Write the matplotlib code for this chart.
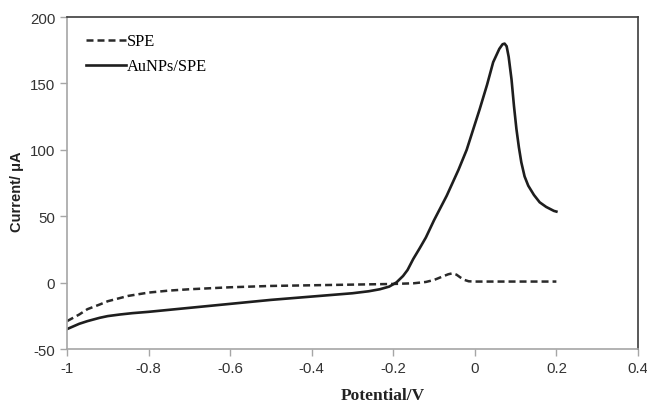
import numpy as np
import matplotlib
matplotlib.use("Agg")
import matplotlib.pyplot as plt

plt.rcParams['font.family'] = ['Liberation Serif', 'DejaVu Serif']
plt.rcParams['axes.unicode_minus'] = False

# SPE (dashed) - potential (V) vs current (uA)
spe_v = [-1.0, -0.97, -0.95, -0.92, -0.9, -0.85, -0.8, -0.75, -0.7, -0.6, -0.5, -0.4,
         -0.3, -0.2, -0.15, -0.12, -0.1, -0.08, -0.065, -0.055, -0.045, -0.035,
         -0.025, -0.015, 0.0, 0.1, 0.2]
spe_i = [-29, -24, -20, -16.5, -14, -10, -7.5, -6, -5, -3.5, -2.5, -2,
         -1.5, -1, -0.5, 0.5, 2, 4.5, 6.3, 7, 6, 3.8, 2, 1, 0.8, 0.8, 0.8]

# AuNPs/SPE (solid)
au_v = [-1.0, -0.97, -0.95, -0.92, -0.9, -0.87, -0.84, -0.8, -0.7, -0.6, -0.5, -0.4, -0.3,
        -0.26, -0.233, -0.21, -0.192, -0.176, -0.165, -0.151, -0.135, -0.12, -0.1, -0.069,
        -0.04, -0.02, 0.012, 0.03, 0.045, 0.06, 0.068, 0.073, 0.078, 0.083,
        0.09, 0.096, 0.102, 0.108, 0.114, 0.122, 0.131, 0.145, 0.159, 0.175,
        0.194, 0.2]
au_i = [-35, -31, -29, -26.5, -25.2, -24, -23, -22, -19, -16, -13, -10.5, -8,
        -6.5, -5, -3, 0.2, 5, 9.5, 17.8, 26, 34, 47, 65.4,
        85, 100, 130.7, 149, 166, 176, 179.5, 180, 178, 170,
        153, 133, 115.7, 102, 90.6, 80, 73, 66, 60.5, 57,
        54, 53.5]

fig = plt.figure(figsize=(6.47, 4.10), dpi=100)
ax = fig.add_axes([0.1036, 0.1463, 0.8824, 0.8097])

ax.plot(spe_v, spe_i, color='#2a2a2a', lw=1.8, ls=(0, (2.8, 1.6)), label='SPE')
ax.plot(au_v, au_i, color='#1e1e1e', lw=1.9, label='AuNPs/SPE')

ax.set_xlim(-1, 0.4)
ax.set_ylim(-50, 200)
ax.set_xticks(np.arange(-1, 0.41, 0.2))
ax.set_xticklabels(['-1', '-0.8', '-0.6', '-0.4', '-0.2', '0', '0.2', '0.4'])
ax.set_yticks(np.arange(-50, 201, 50))

for s in ['left', 'bottom']:
    ax.spines[s].set_color('#a6a6a6')
    ax.spines[s].set_linewidth(1.2)
for s in ['top', 'right']:
    ax.spines[s].set_color('#3c3c3c')
    ax.spines[s].set_linewidth(1.2)

ax.tick_params(axis='both', direction='out', length=5, width=1, color='#a6a6a6',
               labelsize=10.8, labelcolor='#333333')
for lab in ax.get_xticklabels() + ax.get_yticklabels():
    lab.set_family(['Liberation Sans', 'DejaVu Sans'])

ax.set_xlabel('Potential/V', fontsize=12.5, fontweight='bold', color='#222222')
ax.xaxis.set_label_coords(0.553, -0.115)
ax.set_ylabel('Current/ μA', fontsize=10.5, fontweight='bold', color='#222222',
              family=['Liberation Sans', 'DejaVu Sans'])
ax.yaxis.set_label_coords(-0.075, 0.476)

ax.legend(loc='upper left', frameon=False, fontsize=11.8, handlelength=2.4,
          handletextpad=0.1, labelspacing=0.55, bbox_to_anchor=(0.008, 0.995))

fig.savefig('out.png', dpi=100)
